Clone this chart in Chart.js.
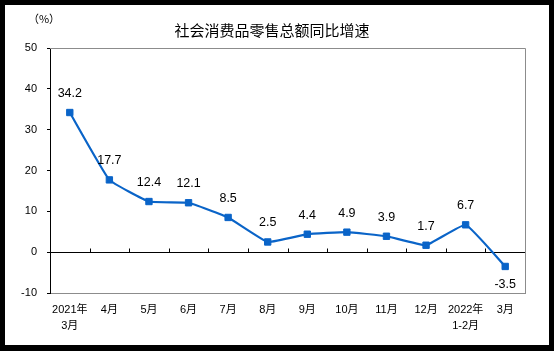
<!DOCTYPE html>
<html>
<head>
<meta charset="utf-8">
<script src="https://cdn.jsdelivr.net/npm/chart.js@4/dist/chart.umd.min.js"></script>
<style>
html,body{margin:0;padding:0;background:#000;}
#wrap{width:554px;height:351px;position:relative;}
</style>
</head>
<body>
<div id="wrap"><canvas id="c" width="554" height="351"></canvas></div>
<script>
const categories = [["2021年","3月"],"4月","5月","6月","7月","8月","9月","10月","11月","12月",["2022年","1-2月"],"3月"];
const growth = [34.2, 17.7, 12.4, 12.1, 8.5, 2.5, 4.4, 4.9, 3.9, 1.7, 6.7, -3.5];
const yTicks = {min: -10, max: 50, step: 10};
const titleText = "社会消费品零售总额同比增速";
const unitText = "（%）";

const LINE = "#0a64c8";
const SANS = "'Liberation Sans', Arial, 'Noto Sans CJK SC', sans-serif";
const CJK = "'Noto Sans CJK SC', 'Liberation Sans', sans-serif";

const decor = {
  id: 'decor',
  beforeDraw(chart) {
    const ctx = chart.ctx;
    ctx.save();
    ctx.fillStyle = '#000';
    ctx.fillRect(0, 0, chart.width, chart.height);
    ctx.fillStyle = '#fff';
    ctx.fillRect(5, 5, 544, 340);
    ctx.restore();
  },
  beforeDatasetsDraw(chart) {
    const ctx = chart.ctx, a = chart.chartArea;
    const x = chart.scales.x, y = chart.scales.y;
    ctx.save();
    ctx.lineWidth = 1;
    ctx.strokeStyle = '#8c8c8c';
    ctx.beginPath();
    ctx.moveTo(a.left, Math.round(a.top) + 0.5);
    ctx.lineTo(Math.round(a.right) + 0.5, Math.round(a.top) + 0.5);
    ctx.lineTo(Math.round(a.right) + 0.5, Math.round(a.bottom) + 0.5);
    ctx.stroke();
    // zero line
    const y0 = Math.round(y.getPixelForValue(0)) + 0.5;
    ctx.strokeStyle = '#000';
    ctx.beginPath();
    ctx.moveTo(a.left, y0);
    ctx.lineTo(a.right, y0);
    for (let i = 1; i < categories.length; i++) {
      const bx = Math.round((x.getPixelForValue(i - 1) + x.getPixelForValue(i)) / 2) + 0.5;
      ctx.moveTo(bx, y0);
      ctx.lineTo(bx, y0 - 4);
    }
    ctx.stroke();
    ctx.restore();
  },
  afterDraw(chart) {
    const ctx = chart.ctx;
    ctx.save();
    ctx.fillStyle = '#000';
    ctx.textAlign = 'center';
    ctx.textBaseline = 'middle';
    ctx.font = "15px " + CJK;
    ctx.fillText(titleText, 272, 30);
    ctx.font = "11px " + CJK;
    ctx.fillText(unitText, 44, 19);
    // data labels
    const meta = chart.getDatasetMeta(0);
    ctx.font = "12.5px " + SANS;
    meta.data.forEach((pt, i) => {
      const v = growth[i];
      const dy = v < 0 ? 18 : -19;
      ctx.fillText(v.toFixed(1), pt.x, pt.y + dy);
    });
    ctx.restore();
  }
};

new Chart(document.getElementById('c'), {
  type: 'line',
  data: {
    labels: categories,
    datasets: [{
      data: growth,
      borderColor: LINE,
      backgroundColor: LINE,
      borderWidth: 2.2,
      tension: 0.1,
      pointStyle: 'rect',
      pointRadius: 4.5,
      pointBorderWidth: 1,
      pointBackgroundColor: LINE,
      pointBorderColor: LINE,
      fill: false
    }]
  },
  options: {
    responsive: false,
    animation: false,
    devicePixelRatio: 1,
    layout: {padding: {left: 0, right: 29, top: 48, bottom: 0}},
    plugins: {legend: {display: false}, title: {display: false}, tooltip: {enabled: false}},
    scales: {
      x: {
        type: 'category',
        offset: true,
        grid: {display: false, drawTicks: false},
        border: {display: true, color: '#8c8c8c', width: 1},
        ticks: {
          color: '#000', maxRotation: 0, autoSkip: false, padding: 9,
          font: {family: SANS, size: 11, lineHeight: 1.45}
        },
        afterFit(s) { s.height = 58; s.paddingLeft = 0; s.paddingRight = 0; }
      },
      y: {
        min: yTicks.min, max: yTicks.max,
        grid: {display: true, drawOnChartArea: false, drawTicks: true, tickLength: 3, color: '#000'},
        border: {display: true, color: '#000', width: 1},
        ticks: {
          stepSize: yTicks.step, color: '#000', padding: 10,
          font: {family: SANS, size: 11}
        },
        afterFit(s) { s.width = 50; s.paddingTop = 0; s.paddingBottom = 0; }
      }
    }
  },
  plugins: [decor]
});
</script>
</body>
</html>
